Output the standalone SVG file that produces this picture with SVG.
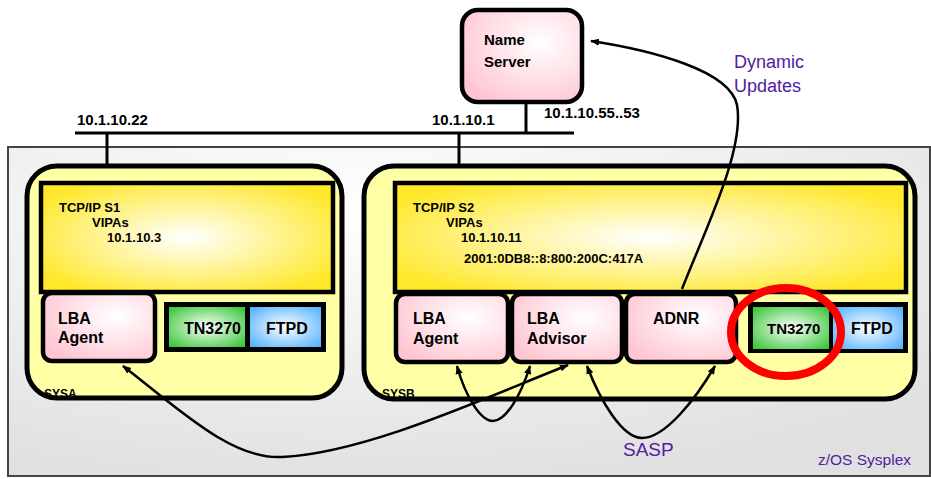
<svg xmlns="http://www.w3.org/2000/svg" width="931" height="479" viewBox="0 0 931 479">
<defs>
<radialGradient id="gBg" cx="0.38" cy="0.2" r="0.85">
<stop offset="0" stop-color="#ffffff"/><stop offset="1" stop-color="#e0e0e0"/>
</radialGradient>
<radialGradient id="gBand" cx="0.5" cy="0.5" r="0.6">
<stop offset="0" stop-color="#ffffff"/><stop offset="1" stop-color="#ffe82a"/>
</radialGradient>
<radialGradient id="gPink" cx="0.65" cy="0.35" r="0.75">
<stop offset="0" stop-color="#ffffff"/><stop offset="1" stop-color="#ffc6d2"/>
</radialGradient>
<radialGradient id="gGreen" cx="0.5" cy="0.5" r="0.65">
<stop offset="0" stop-color="#ffffff"/><stop offset="1" stop-color="#3ec83e"/>
</radialGradient>
<radialGradient id="gBlue" cx="0.5" cy="0.5" r="0.65">
<stop offset="0" stop-color="#ffffff"/><stop offset="1" stop-color="#5ab4ff"/>
</radialGradient>
<marker id="ah" viewBox="0 0 10 10" refX="9" refY="5" markerWidth="9" markerHeight="9" markerUnits="userSpaceOnUse" orient="auto-start-reverse">
<path d="M0,1 L10,5 L0,9 z" fill="#000"/>
</marker>
<style>
.sys{fill:#ffffa6;stroke:#000;stroke-width:5}
.band{fill:url(#gBand);stroke:#000;stroke-width:4.5}
.pink{fill:url(#gPink);stroke:#000;stroke-width:4.5}
.grp{fill:#000}
.green{fill:url(#gGreen)}
.blue{fill:url(#gBlue)}
.b{font-family:"Liberation Sans",Arial,sans-serif;font-weight:bold;fill:#000}
.t13{font-size:13px}
.t15{font-size:15px}
.t16{font-size:16px}
.t12{font-size:12px}
.pur{font-family:"Liberation Sans",Arial,sans-serif;fill:#5020a0}
.net{stroke:#000;stroke-width:3;fill:none}
.con{stroke:#000;stroke-width:2.5;fill:none}
</style>
</defs>

<g id="sysplex">
<rect x="8" y="147" width="922" height="329" fill="url(#gBg)" stroke="#444" stroke-width="2"/>
<text class="pur" x="818" y="465" font-size="15.5">z/OS Sysplex</text>
</g>

<g id="network">
<line class="net" x1="75" y1="133" x2="574" y2="133"/>
<line class="net" x1="107" y1="133" x2="107" y2="166"/>
<line class="net" x1="459" y1="133" x2="459" y2="166"/>
<line class="net" x1="526" y1="104" x2="526" y2="133"/>
<text class="b t15" x="77" y="125">10.1.10.22</text>
<text class="b t15" x="432" y="125">10.1.10.1</text>
<text class="b t15" x="544" y="118">10.1.10.55..53</text>
</g>

<g id="nameserver">
<rect x="462" y="10" width="120" height="92" rx="16" class="pink" stroke-width="5"/>
<text class="b t15" x="484" y="45">Name</text>
<text class="b t15" x="484" y="67">Server</text>
</g>

<g id="sysa">
<rect x="27" y="166" width="315" height="232" rx="30" class="sys"/>
<rect x="41" y="183" width="292" height="109" class="band"/>
<text class="b t13" x="59" y="212">TCP/IP S1</text>
<text class="b t13" x="92" y="227">VIPAs</text>
<text class="b t13" x="107" y="242">10.1.10.3</text>
<text class="b t12" x="44" y="398">SYSA</text>
</g>
<g id="sysa-lba-agent">
<rect x="43" y="293" width="112" height="68" rx="9" class="pink"/>
<text class="b t16" x="58" y="324">LBA</text>
<text class="b t16" x="58" y="343">Agent</text>
</g>
<g id="sysa-apps">
<rect x="164" y="302" width="162" height="50" class="grp"/>
<rect x="169" y="307" width="76" height="40" class="green"/>
<rect x="250" y="307" width="71" height="40" class="blue"/>
<text class="b t16" x="184" y="334">TN3270</text>
<text class="b t16" x="266" y="334">FTPD</text>
</g>

<g id="sysb">
<rect x="364" y="166" width="551" height="233" rx="30" class="sys"/>
<rect x="395" y="183" width="511" height="109" class="band"/>
<text class="b t13" x="413" y="212">TCP/IP S2</text>
<text class="b t13" x="446" y="227">VIPAs</text>
<text class="b t13" x="461" y="242">10.1.10.11</text>
<text class="b t13" x="464" y="263">2001:0DB8::8:800:200C:417A</text>
<text class="b t12" x="382" y="398">SYSB</text>
</g>
<g id="sysb-lba-agent">
<rect x="396" y="294" width="112" height="68" rx="9" class="pink"/>
<text class="b t16" x="413" y="324">LBA</text>
<text class="b t16" x="413" y="344">Agent</text>
</g>
<g id="sysb-lba-advisor">
<rect x="512" y="294" width="110" height="68" rx="9" class="pink"/>
<text class="b t16" x="527" y="324">LBA</text>
<text class="b t16" x="527" y="344">Advisor</text>
</g>
<g id="sysb-adnr">
<rect x="626" y="294" width="110" height="68" rx="9" class="pink"/>
<text class="b t16" x="653" y="324">ADNR</text>
</g>
<g id="sysb-apps">
<rect x="748" y="302" width="160" height="51" class="grp"/>
<rect x="753" y="307" width="76" height="42" class="green"/>
<rect x="833" y="307" width="70" height="42" class="blue"/>
<text class="b t15" x="767" y="334">TN3270</text>
<text class="b t16" x="851" y="334">FTPD</text>
</g>

<g id="connectors">
<path class="con" d="M682 289 C705 230 745 150 737 105 C730 70 650 50 591 41" marker-end="url(#ah)"/>
<path class="con" d="M123 366 C180 410 232 460 282 457 C365 453 480 400 568 365" marker-start="url(#ah)" marker-end="url(#ah)"/>
<path class="con" d="M457 366 C465 395 480 421 493 421 C506 421 521 395 530 366" marker-start="url(#ah)" marker-end="url(#ah)"/>
<path class="con" d="M587 366 C600 400 622 438 642 438 C665 438 695 400 715 366" marker-start="url(#ah)" marker-end="url(#ah)"/>
</g>
<g id="labels">
<text class="pur" x="734" y="68" font-size="18">Dynamic</text>
<text class="pur" x="734" y="92" font-size="18">Updates</text>
<text class="pur" x="623" y="456" font-size="19">SASP</text>
</g>
<g id="highlight">
<ellipse cx="786" cy="332" rx="55" ry="44" fill="none" stroke="#ff0000" stroke-width="8"/>
</g>
</svg>
